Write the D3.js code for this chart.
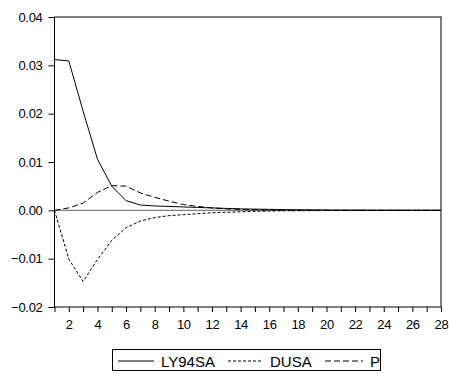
<!DOCTYPE html>
<html>
<head>
<meta charset="utf-8">
<script src="https://cdn.jsdelivr.net/npm/d3@7"></script>
<style>
  body { margin: 0; background: #fff; }
  text { font-family: "Liberation Sans", Arial, sans-serif; fill: #000; }
</style>
</head>
<body>
<div id="chart"></div>
<script>
// periods 1..28 (impulse responses)
const periods = d3.range(1, 29);
const ly94sa = [0.0312, 0.0309, 0.0205, 0.0106, 0.0050, 0.0020, 0.0011, 0.0009, 0.0008, 0.0007,
  0.0006, 0.0005, 0.0004, 0.0003, 0.00025, 0.0002, 0.00015, 0.0001, 0.00008, 0.00006,
  0.00005, 0.00004, 0.00003, 0.00002, 0.00002, 0.00001, 0.00001, 0.00001];
const dusa = [0, -0.0101, -0.0147, -0.0102, -0.0062, -0.0036, -0.0022, -0.0015, -0.0011, -0.0009,
  -0.0007, -0.0005, -0.0004, -0.0003, -0.0002, -0.00015, -0.0001, -0.00008, -0.00006, -0.00004,
  -0.00003, -0.00002, -0.00002, -0.00001, -0.00001, 0, 0, 0];
const p = [0, 0.0005, 0.0015, 0.0037, 0.0051, 0.0050, 0.0036, 0.0027, 0.0019, 0.0012,
  0.0008, 0.0005, 0.0003, 0.0002, 0.0001, 0.00008, 0.00005, 0.00003, 0.00002, 0.00001,
  0, 0, 0, 0, 0, 0, 0, 0];
const yTicks = [-0.02, -0.01, 0.00, 0.01, 0.02, 0.03, 0.04];
const xLabels = d3.range(2, 29, 2);
const seriesNames = ['LY94SA', 'DUSA', 'P'];

const width = 449, height = 374;
const x = d3.scaleLinear().domain([1, 28]).range([54.5, 441]);
const y = d3.scaleLinear().domain([-0.02, 0.04]).range([307, 17]);

const svg = d3.select('#chart').append('svg')
  .attr('width', width)
  .attr('height', height);

// frame
svg.append('rect')
  .attr('x', x(1)).attr('y', y(0.04))
  .attr('width', x(28) - x(1)).attr('height', y(-0.02) - y(0.04))
  .attr('fill', 'none').attr('stroke', '#000').attr('stroke-width', 1);

// zero line
svg.append('line')
  .attr('x1', x(1)).attr('x2', x(28))
  .attr('y1', y(0)).attr('y2', y(0))
  .attr('stroke', '#808080').attr('stroke-width', 1.2);

// y axis
const yAxis = svg.append('g')
  .attr('transform', 'translate(' + x(1) + ',0)')
  .call(d3.axisLeft(y).tickValues(yTicks).tickSize(6).tickPadding(6)
    .tickFormat(d3.format('.2f')));
yAxis.select('.domain').remove();
yAxis.selectAll('text').style('font-size', '13px').style('letter-spacing', '-0.3px')
  .attr('font-family', null);

// x axis
const xAxis = svg.append('g')
  .attr('transform', 'translate(0,' + y(-0.02) + ')')
  .call(d3.axisBottom(x).tickValues(periods).tickSize(5).tickPadding(8)
    .tickFormat(d => xLabels.includes(d) ? d : ''));
xAxis.select('.domain').remove();
xAxis.selectAll('text').style('font-size', '13px').style('letter-spacing', '-0.3px')
  .attr('font-family', null);

// lines
const line = d3.line().x((d, i) => x(periods[i])).y(d => y(d));
const dashes = [null, '3,2', '6,3'];
[ly94sa, dusa, p].forEach((s, i) => {
  svg.append('path')
    .datum(s)
    .attr('fill', 'none')
    .attr('stroke', '#000')
    .attr('stroke-width', 1)
    .attr('stroke-dasharray', dashes[i])
    .attr('d', line);
});

// legend
const legend = svg.append('g');
legend.append('rect')
  .attr('x', 112.5).attr('y', 349.5).attr('width', 268).attr('height', 21)
  .attr('fill', '#fff').attr('stroke', '#000');
const legendX = [118, 228, 325];
const sampleW = [36, 35, 38];
seriesNames.forEach((name, i) => {
  legend.append('line')
    .attr('x1', legendX[i]).attr('x2', legendX[i] + sampleW[i])
    .attr('y1', 361).attr('y2', 361)
    .attr('stroke', '#000')
    .attr('stroke-dasharray', dashes[i]);
  legend.append('text')
    .attr('x', legendX[i] + sampleW[i] + 7)
    .attr('y', 367)
    .style('font-size', '15px')
    .text(name);
});
</script>
</body>
</html>
